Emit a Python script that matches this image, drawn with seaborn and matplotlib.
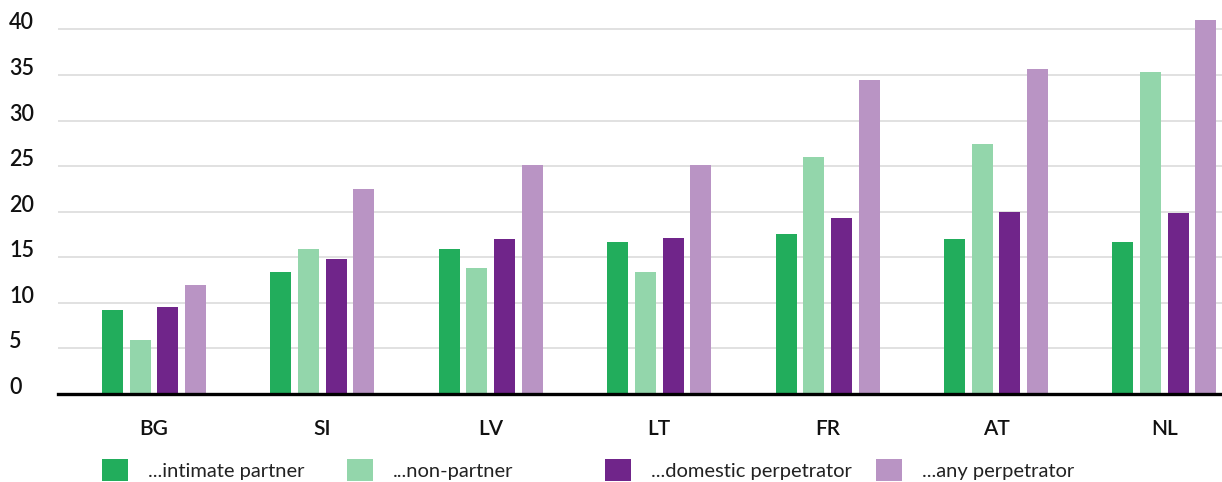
import matplotlib
matplotlib.use("Agg")
import matplotlib.pyplot as plt
import seaborn as sns
import pandas as pd
from matplotlib.patches import Patch

countries = ["BG", "SI", "LV", "LT", "FR", "AT", "NL"]
series = ["...intimate partner", "...non-partner", "...domestic perpetrator", "...any perpetrator"]
intimate_partner = [9.2, 13.4, 15.9, 16.7, 17.5, 17.0, 16.7]
non_partner = [5.9, 15.9, 13.8, 13.4, 26.0, 27.4, 35.3]
domestic_perpetrator = [9.5, 14.8, 17.0, 17.1, 19.3, 20.0, 19.8]
any_perpetrator = [12.0, 22.5, 25.1, 25.1, 34.4, 35.7, 41.0]
colors = ["#22ad5c", "#93d6ab", "#70258a", "#b994c4"]
yticks = [0, 5, 10, 15, 20, 25, 30, 35, 40]

values = [intimate_partner, non_partner, domestic_perpetrator, any_perpetrator]
rows = []
for s, vals in zip(series, values):
    for c, v in zip(countries, vals):
        rows.append({"country": c, "series": s, "value": v})
df = pd.DataFrame(rows)

sns.set_theme(style="white")
plt.rcParams["font.family"] = ["Lato", "DejaVu Sans"]

W, H = 1222, 482
fig = plt.figure(figsize=(W / 100, H / 100), dpi=100)
ax = fig.add_axes([58 / W, (H - 394) / H, 1 - 58 / W, 392 / H])

sns.barplot(data=df, x="country", y="value", hue="series", order=countries,
            hue_order=series, palette=colors, width=0.658, gap=0.24,
            legend=False, ax=ax, saturation=1, edgecolor="none", linewidth=0)

ax.set_ylim(0, 43)
ax.set_xlim(-0.570, 6.342)
ax.set_yticks(yticks)
ax.set_yticklabels([str(t) for t in yticks], fontsize=15.5, color="#111111",
                   ha="left", va="baseline", fontweight="semibold")
ax.tick_params(axis="y", length=0, pad=35.3)
ax.tick_params(axis="x", length=0, pad=18, labelsize=15, labelcolor="#111111")
for lab in ax.get_xticklabels():
    lab.set_fontweight("semibold")
ax.set_xlabel("")
ax.set_ylabel("")
ax.set_axisbelow(True)
ax.yaxis.grid(True, color="#dcdcdc", linewidth=1.2)
ax.xaxis.grid(False)
for side in ["top", "right", "left"]:
    ax.spines[side].set_visible(False)
ax.spines["bottom"].set_color("#000000")
ax.spines["bottom"].set_linewidth(2.4)

leg_x = [102, 347, 605, 876]
for s, c, x in zip(series, colors, leg_x):
    lg = fig.legend(handles=[Patch(facecolor=c, edgecolor="none", label=s)],
                    loc="center left", bbox_to_anchor=(x / W, 1 - 470 / H),
                    frameon=False, fontsize=14.5, handlelength=1.3,
                    handleheight=1.3, handletextpad=1.0, borderpad=0,
                    borderaxespad=0)
    for t in lg.get_texts():
        t.set_color("#222222")
        t.set_fontweight("normal")

fig.savefig("out.png", dpi=100)
